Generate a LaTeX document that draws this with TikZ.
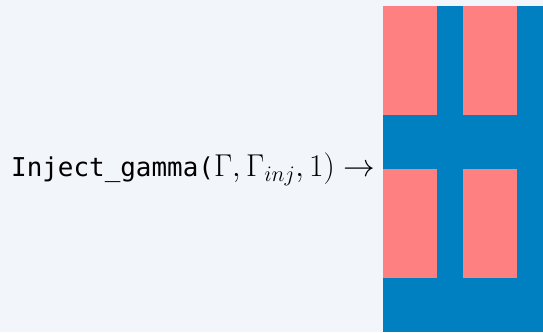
\documentclass[tikz,border=0pt]{standalone}
\usepackage{fix-cm}
\usepackage{fontspec}
\setmonofont[Scale=0.82]{DejaVu Sans Mono}
\usepackage{xcolor}
\usepackage{tikz}
\definecolor{pagebg}{RGB}{242,245,250}
\definecolor{gridblue}{RGB}{0,128,192}
\definecolor{cellred}{RGB}{255,128,128}

\begin{document}
\begin{tikzpicture}[
  x=1pt, y=1pt,
  expr/.style={anchor=base west, inner sep=0pt,
               font=\fontsize{31.6}{38}\selectfont},
  cell/.style={fill=cellred, draw=none},
  frame/.style={fill=gridblue, draw=none},
]
% --- background and picture size ---
\fill[pagebg] (0,0) rectangle (543,332);
\useasboundingbox (0,0) rectangle (543,332);

% --- call expression ---
\node[expr] (call) at (11,155)
  {\texttt{Inject\_gamma(}$\Gamma,\Gamma_{inj},1)\rightarrow$};

% --- result grid ---
\fill[frame] (383,0) rectangle (543,326);
\foreach \cx in {383,463} {
  \fill[cell] (\cx,217) rectangle ++(54,109);
  \fill[cell] (\cx,54) rectangle ++(54,109);
}
\end{tikzpicture}
\end{document}
